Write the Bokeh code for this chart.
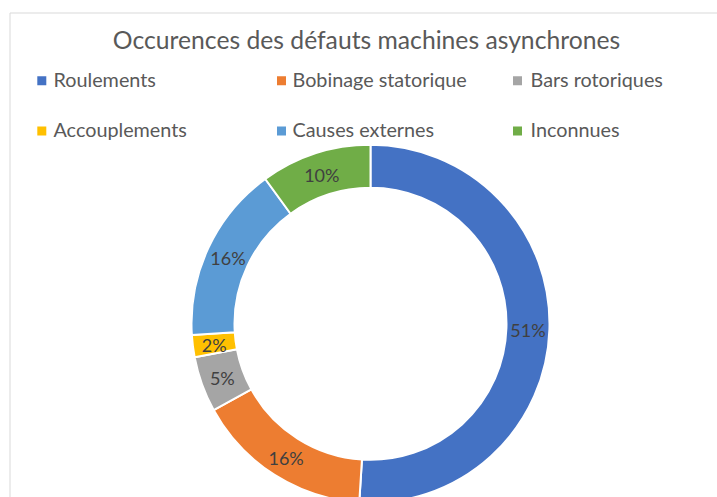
import numpy as np
from bokeh.plotting import figure
from bokeh.models import Range1d, ColumnDataSource
from bokeh.core.properties import value
from bokeh.embed import file_html
from bokeh.resources import INLINE

# ---- data ----
chart_title = "Occurences des défauts machines asynchrones"
categories = ["Roulements", "Bobinage statorique", "Bars rotoriques",
              "Accouplements", "Causes externes", "Inconnues"]
shares = [51, 16, 5, 2, 16, 10]
colors = ["#4472C4", "#ED7D31", "#A5A5A5", "#FFC000", "#5B9BD5", "#70AD47"]

FONT = "Lato"
W, H = 717, 497
p = figure(width=W, height=H, x_range=Range1d(0, W), y_range=Range1d(0, H),
           output_backend="svg", toolbar_location=None, min_border=0)
p.axis.visible = False
p.grid.visible = False
p.outline_line_color = None
p.background_fill_color = "white"
p.border_fill_color = "white"


def X(px):
    return px


def Y(py):
    return H - py


# chart area border (top & left visible)
p.segment(x0=[X(9.5), X(9.5)], y0=[Y(12.5), Y(12.5)], x1=[X(740), X(9.5)], y1=[Y(12.5), Y(520)],
          line_color="#D9D9D9", line_width=1)

# ---- donut ----
cx, cy = X(370), Y(323.3)
r_out, r_in = 179, 136
vals = np.array(shares, dtype=float)
frac = vals / vals.sum()
cum = np.concatenate([[0.0], np.cumsum(frac)])
start = np.pi / 2 - 2 * np.pi * cum[:-1]
end = np.pi / 2 - 2 * np.pi * cum[1:]
mid = (start + end) / 2
r_mid = (r_out + r_in) / 2
src = ColumnDataSource(dict(start=start, end=end, color=colors,
                            lx=cx + r_mid * np.cos(mid), ly=cy + r_mid * np.sin(mid) - 1,
                            lab=[f"{s}%" for s in shares]))
p.annular_wedge(x=cx, y=cy, inner_radius=r_in, outer_radius=r_out,
                start_angle="start", end_angle="end", direction="clock",
                fill_color="color", line_color="white", line_width=2, source=src)
p.text(x="lx", y="ly", text="lab", source=src, text_font=value(FONT),
       text_font_size="18px", text_color="#404040", text_align="center",
       text_baseline="middle")

# ---- title ----
p.text(x=[X(366)], y=[Y(39)], text=[chart_title], text_font=value(FONT),
       text_font_size="24.7px", text_color="#595959", text_align="center",
       text_baseline="middle")

# ---- legend ----
col_marker = [X(41.3), X(281), X(517)]
col_text = [X(53), X(292), X(530)]
row_y = [Y(80.3), Y(130.5)]
mx, my, tx, ty = [], [], [], []
for i, c in enumerate(categories):
    r, k = divmod(i, 3)
    mx.append(col_marker[k]); my.append(row_y[r])
    tx.append(col_text[k]); ty.append(row_y[r] + 1.8)
p.scatter(x=mx, y=my, marker="square", size=9, fill_color=colors, line_color=None)
p.text(x=tx, y=ty, text=categories, text_font=value(FONT), text_font_size="19.8px",
       text_color="#595959", text_align="left", text_baseline="middle")

open("out.html", "w").write(file_html(p, INLINE))
